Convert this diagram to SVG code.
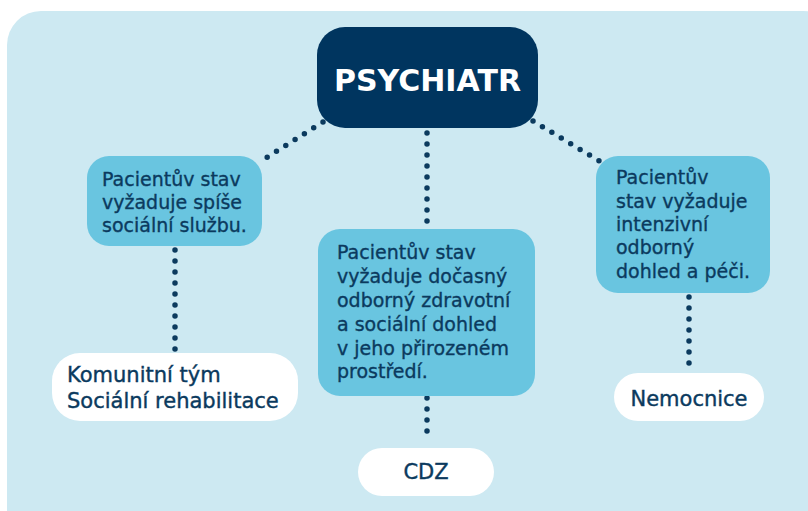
<svg xmlns="http://www.w3.org/2000/svg" width="808" height="511" viewBox="0 0 808 511">
<style>
.bg{fill:#cde9f2}
.q{fill:#69c5e0}
.w{fill:#ffffff}
.t{font-family:"DejaVu Sans",sans-serif;font-size:19px;fill:#0b3a5e;stroke:#0b3a5e;stroke-width:0.35}
.tw{font-family:"DejaVu Sans",sans-serif;font-size:21px;fill:#0b3a5e;stroke:#0b3a5e;stroke-width:0.4}
.dot{fill:none;stroke:#0b3a5e;stroke-width:5.5;stroke-linecap:round;stroke-dasharray:0 11}
</style>
<rect class="bg" x="7" y="11" width="830" height="540" rx="34"/>
<g id="connectors">
<line class="dot" x1="323" y1="122" x2="258" y2="163"/>
<line class="dot" x1="533" y1="121" x2="601" y2="162"/>
<line class="dot" x1="427" y1="133" x2="427" y2="225"/>
<line class="dot" x1="175" y1="250" x2="175" y2="350"/>
<line class="dot" x1="427" y1="398" x2="427" y2="442"/>
<line class="dot" x1="689" y1="297" x2="689" y2="370"/>
</g>
<g id="psychiatr">
<rect x="317" y="27" width="221" height="101" rx="28" fill="#00355f"/>
<text x="427.5" y="91" text-anchor="middle" font-family="DejaVu Sans,sans-serif" font-weight="bold" font-size="30" fill="#ffffff">PSYCHIATR</text>
</g>
<g id="left">
<rect class="q" x="87" y="156" width="175" height="90" rx="22"/>
<text class="t"><tspan x="102" y="186">Pacientův stav</tspan><tspan x="102" y="209">vyžaduje spíše</tspan><tspan x="102" y="232">sociální službu.</tspan></text>
</g>
<g id="middle">
<rect class="q" x="318" y="229" width="217" height="167" rx="22"/>
<text class="t"><tspan x="337" y="259">Pacientův stav</tspan><tspan x="337" y="283">vyžaduje dočasný</tspan><tspan x="337" y="307">odborný zdravotní</tspan><tspan x="337" y="331">a sociální dohled</tspan><tspan x="337" y="355">v jeho přirozeném</tspan><tspan x="337" y="378">prostředí.</tspan></text>
</g>
<g id="right">
<rect class="q" x="596" y="156" width="174" height="137" rx="22"/>
<text class="t"><tspan x="616" y="184">Pacientův</tspan><tspan x="616" y="208">stav vyžaduje</tspan><tspan x="616" y="231">intenzivní</tspan><tspan x="616" y="254">odborný</tspan><tspan x="616" y="278">dohled a péči.</tspan></text>
</g>
<g id="komunitni">
<rect class="w" x="52" y="353" width="246" height="68" rx="28"/>
<text class="tw"><tspan x="67" y="382">Komunitní tým</tspan><tspan x="67" y="408">Sociální rehabilitace</tspan></text>
</g>
<g id="cdz">
<rect class="w" x="358" y="448" width="136" height="48" rx="24"/>
<text class="tw" x="426" y="479" text-anchor="middle">CDZ</text>
</g>
<g id="nemocnice">
<rect class="w" x="614" y="373" width="150" height="48" rx="24"/>
<text class="tw" x="689" y="406" text-anchor="middle">Nemocnice</text>
</g>
</svg>
